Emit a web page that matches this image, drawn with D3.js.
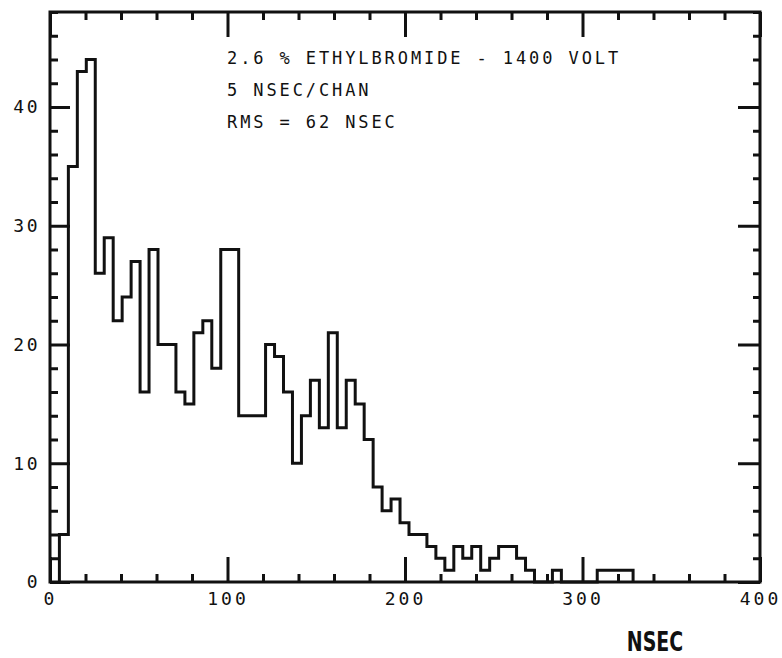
<!DOCTYPE html>
<html>
<head>
<meta charset="utf-8">
<script src="https://cdn.jsdelivr.net/npm/d3@7"></script>
<style>
  body { margin: 0; background: #fff; }
  svg { display: block; }
  .lbl { font-family: "DejaVu Sans Mono", monospace; font-size: 18px; fill: #111; }
  .note { font-family: "DejaVu Sans Mono", monospace; font-size: 17px; fill: #111; letter-spacing: 2.9px; }
</style>
</head>
<body>
<svg id="chart" width="782" height="658"></svg>
<script>
// histogram counts, 5 nsec channels
const binStart = 5.3
const binWidth = 5.05
const counts = [4, 35, 43, 44, 26, 29, 22, 24, 27, 16, 28, 20, 20, 16, 15, 21, 22, 18, 28, 28,
                14, 14, 14, 20, 19, 16, 10, 14, 17, 13, 21, 13, 17, 15, 12, 8, 6, 7, 5, 4,
                4, 3, 2, 1, 3, 2, 3, 1, 2, 3, 3, 2, 1, 0, 0, 1, 0, 0, 0, 0,
                1, 1, 1, 1]

const xMajor = [0, 100, 200, 300, 400]
const yMajor = [0, 10, 20, 30, 40]
const noteLines = ["2.6 % ETHYLBROMIDE - 1400 VOLT", "5 NSEC/CHAN", "RMS = 62 NSEC"]
const xTitle = "NSEC"

const svg = d3.select("#chart")

const x = d3.scaleLinear().domain([0, 400]).range([50, 760])
const y = d3.scaleLinear().domain([0, 48]).range([582, 12])

const xMinor = d3.range(0, 401, 20).filter(d => d % 100 != 0)
const yMinor = d3.range(0, 49, 2).filter(d => d % 10 != 0)

    // frame
svg.append("rect")
    .attr("x", x(0)).attr("y", y(48))
    .attr("width", x(400) - x(0)).attr("height", y(0) - y(48))
    .attr("fill", "none").attr("stroke", "#111").attr("stroke-width", 3)

function tickAxis(axis, transform, len) {
    const g = svg.append("g")
        .attr("transform", transform)
        .call(axis.tickSizeInner(len).tickSizeOuter(0))
    g.select(".domain").remove()
    g.selectAll(".tick line").attr("stroke", "#111").attr("stroke-width", 3)
    return g
}

    // bottom
tickAxis(d3.axisBottom(x).tickValues(xMinor).tickFormat(""), `translate(0,${y(0)})`, -8)
const gx = tickAxis(d3.axisBottom(x).tickValues(xMajor).tickFormat(d3.format("d")).tickPadding(10),
    `translate(0,${y(0)})`, -25)
gx.selectAll("text").attr("class", "lbl").attr("font-size", null).attr("font-family", null)
    .style("letter-spacing", "3px")

    // top
tickAxis(d3.axisTop(x).tickValues(xMinor).tickFormat(""), `translate(0,${y(48)})`, -8)
tickAxis(d3.axisTop(x).tickValues(xMajor).tickFormat(""), `translate(0,${y(48)})`, -25)

    // left
tickAxis(d3.axisLeft(y).tickValues(yMinor).tickFormat(""), `translate(${x(0)},0)`, -8)
const gy = tickAxis(d3.axisLeft(y).tickValues(yMajor).tickFormat(d3.format("d")).tickPadding(10),
    `translate(${x(0)},0)`, -20)
gy.selectAll("text").attr("class", "lbl").attr("font-size", null).attr("font-family", null)
    .style("letter-spacing", "2.5px")

    // right
tickAxis(d3.axisRight(y).tickValues(yMinor).tickFormat(""), `translate(${x(400)},0)`, -7)
tickAxis(d3.axisRight(y).tickValues(yMajor).tickFormat(""), `translate(${x(400)},0)`, -22)

    // step outline of the histogram
let pts = [[binStart, 0]]
counts.forEach((c, i) => {
    const lo = binStart + i * binWidth
    pts.push([lo, c], [lo + binWidth, c])
})
pts.push([binStart + counts.length * binWidth, 0])

svg.append("path")
    .attr("d", d3.line().x(d => x(d[0])).y(d => y(d[1]))(pts))
    .attr("fill", "none")
    .attr("stroke", "#111")
    .attr("stroke-width", 3)
    .attr("stroke-linejoin", "miter")

    // annotation
svg.selectAll(".note").data(noteLines).enter()
    .append("text")
    .attr("class", "note")
    .attr("x", 227)
    .attr("y", (d, i) => 64 + i * 32)
    .text(d => d)

svg.append("text")
    .attr("x", 655).attr("y", 651)
    .attr("text-anchor", "middle")
    .attr("font-family", "'Liberation Sans Narrow', 'DejaVu Sans Condensed', sans-serif")
    .attr("font-weight", "bold")
    .attr("font-size", 27)
    .attr("transform", "translate(655,0) scale(0.78,1) translate(-655,0)")
    .attr("fill", "#111")
    .text(xTitle)
</script>
</body>
</html>
